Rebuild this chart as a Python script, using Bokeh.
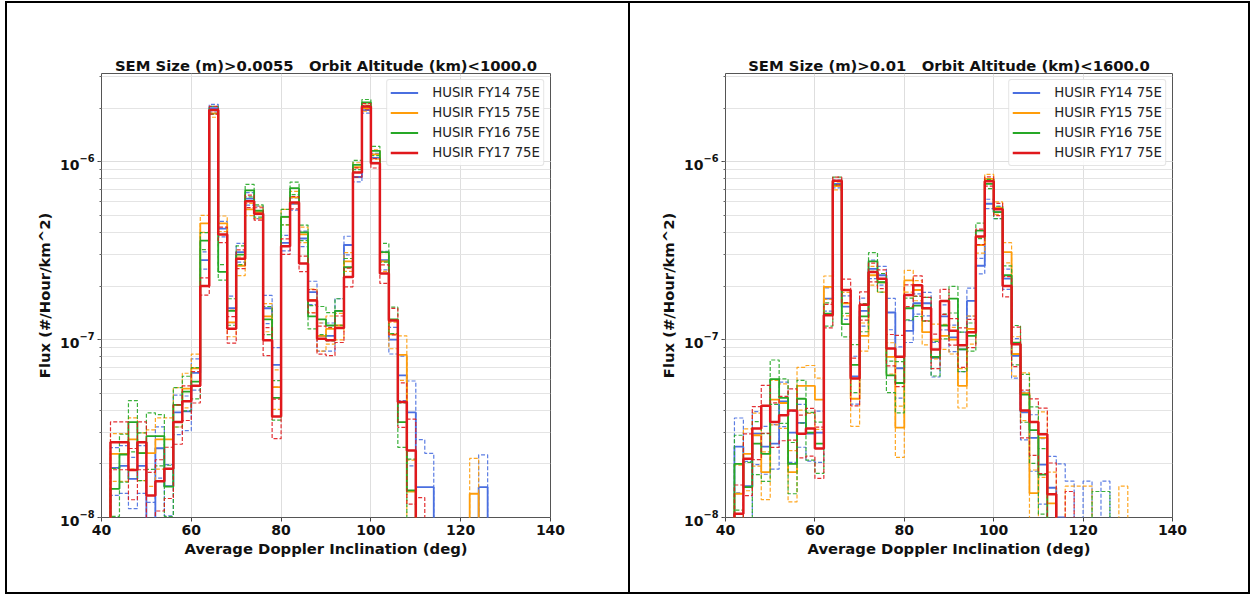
import numpy as np
from bokeh.plotting import figure
from bokeh.layouts import row
from bokeh.models import Legend, LegendItem, FixedTicker, Range1d
from bokeh.embed import file_html
from bokeh.resources import INLINE

# ---------------- data ----------------
bin_edges = list(range(42, 132, 2))          # 44 bins of 2 deg, 42..130
series_names = ["HUSIR FY14 75E", "HUSIR FY15 75E", "HUSIR FY16 75E", "HUSIR FY17 75E"]
x_ticks = [40, 60, 80, 100, 120, 140]

NBSP3 = "\u00a0\u00a0\u00a0"
left_title = "SEM Size (m)>0.0055" + NBSP3 + "Orbit Altitude (km)<1000.0"
right_title = "SEM Size (m)>0.01" + NBSP3 + "Orbit Altitude (km)<1600.0"

left_fy14 = [1.9e-8, 1.95e-8, 1.65e-8, 1.95e-8, 9e-9, 2.45e-8, 1.5e-8, 3.9e-8, 3.95e-8, 6.5e-8,
             2.8e-7, 2.0e-6, 4.2e-7, 1.5e-7, 3.1e-7, 6.2e-7, 5.2e-7, 1.5e-7, 7.2e-8, 3.5e-7,
             5.8e-7, 3.7e-7, 1.85e-7, 1.05e-7, 1.05e-7, 1.45e-7, 3.4e-7, 8.2e-7, 1.95e-6, 1.05e-6,
             2.8e-7, 1.0e-7, 6.3e-8, 3.9e-8, 1.48e-8, 1.48e-8, 0, 0, 0, 0, 0, 1.48e-8, 0, 0]
left_fy15 = [2.28e-8, 2.28e-8, 2.75e-8, 2.3e-8, 2.3e-8, 2.75e-8, 2.75e-8, 4.3e-8, 5.3e-8, 6.9e-8,
             4.5e-7, 1.87e-6, 4.5e-7, 1.25e-7, 2.6e-7, 5.4e-7, 5.2e-7, 1.35e-7, 5.4e-8, 4.9e-7,
             6.3e-7, 3.9e-7, 1.67e-7, 1.05e-7, 1.15e-7, 1.2e-7, 2.75e-7, 9.3e-7, 2.0e-6, 1.1e-6,
             2.75e-7, 1.07e-7, 8.2e-8, 1.4e-8, 0, 0, 0, 0, 0, 0, 1.36e-8, 0, 0, 0]
left_fy16 = [1.45e-8, 2.26e-8, 3.44e-8, 2.3e-8, 2.87e-8, 2.87e-8, 1.49e-8, 4.3e-8, 5.1e-8, 5.8e-8,
             3.6e-7, 1.95e-6, 2.4e-7, 1.45e-7, 3.0e-7, 6.9e-7, 5.3e-7, 1.3e-7, 4.7e-8, 4.9e-7,
             7.1e-7, 4.0e-7, 1.35e-7, 1.3e-7, 1.2e-7, 1.45e-7, 2.55e-7, 9.6e-7, 2.15e-6, 1.15e-6,
             3.1e-7, 1.3e-7, 3.44e-8, 1.42e-8, 0, 0, 0, 0, 0, 0, 0, 0, 0, 0]
left_fy17 = [2.65e-8, 2.65e-8, 1.85e-8, 2.65e-8, 1.33e-8, 1.6e-8, 1.88e-8, 3.44e-8, 4.5e-8, 5.5e-8,
             2.0e-7, 1.95e-6, 3.9e-7, 1.15e-7, 2.85e-7, 6.0e-7, 5.1e-7, 9.9e-8, 3.7e-8, 3.35e-7,
             5.9e-7, 2.68e-7, 1.66e-7, 1.01e-7, 9.9e-8, 1.16e-7, 2.25e-7, 8.7e-7, 2.04e-6, 9.8e-7,
             2.35e-7, 1.28e-7, 4.46e-8, 2.38e-8, 7e-9, 0, 0, 0, 0, 0, 0, 0, 0, 0]
left_rel_err = [0.3, 0.3, 0.32, 0.3, 0.35, 0.32, 0.32, 0.25, 0.22, 0.2,
                0.11, 0.05, 0.1, 0.17, 0.12, 0.08, 0.08, 0.18, 0.25, 0.1,
                0.08, 0.1, 0.15, 0.18, 0.18, 0.17, 0.12, 0.06, 0.04, 0.06,
                0.12, 0.17, 0.28, 0.5, 0.85, 0.55, 1.0, 1.0, 1.0, 1.0, 0.58, 0.52, 1.0, 1.0]

right_fy14 = [2.5e-8, 1.5e-8, 2.96e-8, 2.5e-8, 2.6e-8, 4.5e-8, 3.0e-8, 3.4e-8, 2.96e-8, 3.0e-8,
              1.7e-7, 7.5e-7, 1.53e-7, 6.2e-8, 1.45e-7, 2.5e-7, 2.3e-7, 1.42e-7, 6.9e-8, 1.12e-7,
              1.6e-7, 1.6e-7, 7.9e-8, 1.35e-7, 1.03e-7, 8.8e-8, 1.65e-7, 2.6e-7, 5.8e-7, 5.2e-7,
              2.2e-7, 8.1e-8, 3.9e-8, 2.8e-8, 1.98e-8, 1.47e-8, 1.0e-8, 8e-9, 0, 8e-9, 0, 8e-9, 0, 0]
right_fy15 = [1.36e-8, 2.28e-8, 2.9e-8, 1.8e-8, 4.6e-8, 4.4e-8, 1.8e-8, 5.5e-8, 5.5e-8, 4.6e-8,
              1.98e-7, 7.3e-7, 1.6e-7, 4.65e-8, 1.05e-7, 2.3e-7, 2.1e-7, 8.0e-8, 3.2e-8, 2.15e-7,
              1.9e-7, 1.1e-7, 1.0e-7, 1.05e-7, 1.0e-7, 5.5e-8, 1.15e-7, 3.4e-7, 8.0e-7, 5.5e-7,
              3.1e-7, 8.3e-8, 5.0e-8, 1.37e-8, 2.8e-8, 1.2e-8, 0, 7.5e-9, 7.5e-9, 7.5e-9, 0, 0, 0, 7.5e-9]
right_fy16 = [2.0e-8, 1.48e-8, 2.6e-8, 2.28e-8, 6.0e-8, 4.7e-8, 2.0e-8, 4.65e-8, 3.0e-8, 2.6e-8,
              1.4e-7, 7.8e-7, 1.22e-7, 7.2e-8, 1.35e-7, 2.75e-7, 2.1e-7, 6.3e-8, 5.7e-8, 1.5e-7,
              1.55e-7, 1.5e-7, 8.0e-8, 1.2e-7, 1.7e-7, 8.8e-8, 1.05e-7, 4.1e-7, 7.5e-7, 5.2e-7,
              2.3e-7, 9.6e-8, 4.9e-8, 3.1e-8, 1.74e-8, 0, 0, 0, 0, 0, 7e-9, 7e-9, 0, 0]
right_fy17 = [1.05e-8, 2.14e-8, 3.16e-8, 4.25e-8, 3.44e-8, 3.75e-8, 4.0e-8, 2.96e-8, 3.16e-8, 2.44e-8,
              1.37e-7, 7.8e-7, 1.9e-7, 6.05e-8, 1.57e-7, 2.4e-7, 2.2e-7, 8.9e-8, 8.0e-8, 1.78e-7,
              2.02e-7, 1.5e-7, 8.8e-8, 1.65e-7, 1.12e-7, 9.3e-8, 1.1e-7, 3.8e-7, 7.75e-7, 5.4e-7,
              2.0e-7, 9.4e-8, 4.0e-8, 3.44e-8, 2.94e-8, 1.35e-8, 0, 7e-9, 0, 0, 0, 0, 0, 0]
right_rel_err = [0.45, 0.38, 0.33, 0.3, 0.28, 0.28, 0.32, 0.27, 0.3, 0.32,
                 0.15, 0.05, 0.15, 0.3, 0.18, 0.12, 0.12, 0.2, 0.32, 0.14,
                 0.13, 0.15, 0.22, 0.16, 0.17, 0.25, 0.18, 0.1, 0.06, 0.08,
                 0.13, 0.25, 0.3, 0.35, 0.4, 0.5, 1.0, 1.0, 1.0, 1.0, 1.0, 1.0, 1.0, 1.0]

# ---------------- style ----------------
colors = ["#4a6fe0", "#ff9d0a", "#26a826", "#e0181c"]
solid_widths = [1.8, 1.8, 1.8, 2.5]
FONT = "DejaVu Sans"
TINY = 1e-12


def make_panel(title, series, rel_err, mb_left, mb_right):
    p = figure(frame_width=447, frame_height=444, y_axis_type="log",
               x_range=Range1d(40, 140), y_range=Range1d(1e-8, 3.13e-6),
               min_border_left=mb_left, min_border_right=mb_right,
               min_border_top=70, min_border_bottom=75,
               output_backend="svg", toolbar_location=None, title=title)
    p.title.text_font = FONT
    p.title.text_font_style = "bold"
    p.title.text_font_size = "14.8px"
    p.title.align = "center"
    p.title.standoff = 0
    p.title.text_color = "#111111"

    p.outline_line_color = "#555555"
    p.outline_line_width = 1
    p.background_fill_color = "white"
    p.border_fill_color = "white"

    p.xaxis.ticker = FixedTicker(ticks=x_ticks)
    p.xaxis.axis_label = "Average Doppler Inclination (deg)"
    p.yaxis.axis_label = "Flux (#/Hour/km^2)"
    for ax in (p.xaxis[0], p.yaxis[0]):
        ax.axis_label_text_font = FONT
        ax.axis_label_text_font_style = "bold"
        ax.axis_label_text_font_size = "14.8px"
        ax.axis_label_text_color = "#111111"
        ax.axis_label_standoff = 2
        ax.major_label_text_font = FONT
        ax.major_label_text_font_style = "bold"
        ax.major_label_text_font_size = "14px"
        ax.major_label_text_color = "#111111"
        ax.major_label_standoff = 3
        ax.axis_line_color = None
        ax.major_tick_in = 0
        ax.major_tick_out = 4
        ax.major_tick_line_color = "#444444"
        ax.minor_tick_in = 0
        ax.minor_tick_out = 2
        ax.minor_tick_line_color = "#666666"
    p.xaxis.minor_tick_line_color = None
    p.yaxis.axis_label_standoff = 4

    p.xgrid.grid_line_color = "#dedede"
    p.ygrid.grid_line_color = "#dedede"
    p.ygrid.minor_grid_line_color = "#e4e4e4"

    edges = np.array(bin_edges, dtype=float)
    xs = np.concatenate([[edges[0]], edges])
    err = np.array(rel_err, dtype=float)
    items = []
    for name, col, lw, vals in zip(series_names, colors, solid_widths, series):
        v = np.array(vals, dtype=float)
        has = v > 0
        up = np.where(has, v * (1 + err), TINY)
        lo = np.where(has, np.maximum(v * (1 - err), TINY), TINY)
        mid = np.where(has, v, TINY)
        for b in (up, lo):
            ys = np.concatenate([[TINY], b, [TINY]])
            p.step(xs, ys, mode="after", line_color=col, line_width=1.2,
                   line_dash="4 2", line_alpha=0.9)
        ys = np.concatenate([[TINY], mid, [TINY]])
        r = p.step(xs, ys, mode="after", line_color=col, line_width=lw)
        items.append(LegendItem(label=name, renderers=[r]))

    legend = Legend(items=items, location="top_right")
    legend.label_text_font = FONT
    legend.label_text_font_size = "13.3px"
    legend.label_text_color = "#222222"
    legend.glyph_width = 28
    legend.glyph_height = 19
    legend.label_height = 19
    legend.label_standoff = 14
    legend.spacing = 1
    legend.padding = 3
    legend.margin = 6
    legend.border_line_color = "#cccccc"
    legend.border_line_width = 1
    legend.background_fill_alpha = 0.85
    legend.border_radius = 3
    p.add_layout(legend)
    return p


p1 = make_panel(left_title, [left_fy14, left_fy15, left_fy16, left_fy17], left_rel_err, 94, 80)
p2 = make_panel(right_title, [right_fy14, right_fy15, right_fy16, right_fy17], right_rel_err, 95, 76)
p1.styles = {"border-right": "2px solid black"}

layout = row(p1, p2, margin=(1, 0, 0, 5), styles={"border": "2px solid black"})

open("out.html", "w").write(file_html(layout, INLINE))
